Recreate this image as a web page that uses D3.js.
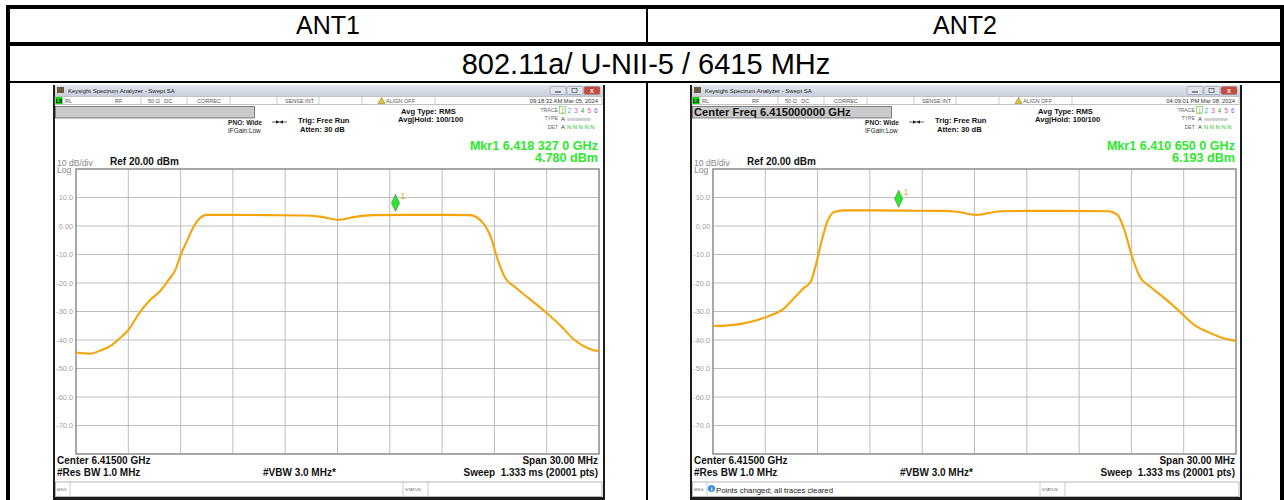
<!DOCTYPE html>
<html><head><meta charset="utf-8">
<script src="https://cdn.jsdelivr.net/npm/d3@7"></script>
<style>
body{margin:0;background:#fff}
svg{display:block}
text{font-family:"Liberation Sans",Arial,sans-serif}
</style>
</head><body>
<svg id="c" width="1284" height="500"></svg>
<script>
// ---------------- data ----------------
const columnTitles = ["ANT1", "ANT2"];
const rowTitle = "802.11a/ U-NII-5 / 6415 MHz";
const yTicks = [10, 0, -10, -20, -30, -40, -50, -60, -70];
const yTickLabels = ["10.0", "0.00", "-10.0", "-20.0", "-30.0", "-40.0", "-50.0", "-60.0", "-70.0"];
const xGridFreq = [6.400, 6.403, 6.406, 6.409, 6.412, 6.415, 6.418, 6.421, 6.424, 6.427, 6.430];

const ant1Freq = [6.4000, 6.4008, 6.4014, 6.40205, 6.4025, 6.4030, 6.4036, 6.40425, 6.4048, 6.4053, 6.4057, 6.4060, 6.40635, 6.40675, 6.4071, 6.4075, 6.4090, 6.4110, 6.4130, 6.4140, 6.4150, 6.4160, 6.4170, 6.4190, 6.4210, 6.4226, 6.42335, 6.4238, 6.4242, 6.4246, 6.4252, 6.4260, 6.4269, 6.4278, 6.4286, 6.4294, 6.4300];
const ant1Level = [-44.4, -44.8, -43.7, -41.8, -39.5, -36.5, -30.8, -26.0, -23.0, -19.0, -15.4, -10.2, -5.5, -0.2, 2.7, 3.9, 3.9, 3.8, 3.7, 3.3, 2.2, 3.2, 3.8, 3.9, 3.9, 3.8, 1.0, -4.0, -12.0, -18.0, -21.5, -25.5, -30.0, -35.0, -40.0, -43.0, -44.0];

const ant2Freq = [6.4000, 6.4012, 6.40235, 6.4032, 6.4041, 6.40465, 6.4052, 6.4056, 6.4059, 6.4062, 6.40655, 6.40695, 6.4075, 6.4090, 6.4110, 6.4130, 6.4140, 6.4151, 6.4165, 6.4180, 6.4200, 6.4227, 6.4232, 6.4236, 6.4240, 6.4245, 6.4251, 6.4259, 6.4268, 6.4276, 6.4285, 6.4294, 6.4300];
const ant2Level = [-35.1, -34.7, -33.3, -31.6, -28.8, -25.3, -21.8, -19.6, -13.7, -6.0, 1.4, 4.9, 5.5, 5.5, 5.4, 5.3, 5.0, 3.9, 5.2, 5.3, 5.3, 5.2, 3.9, -1.4, -10.0, -18.0, -21.4, -25.3, -30.2, -34.7, -37.5, -39.6, -40.4];

const screens = [
  {ox: 53, freq: ant1Freq, level: ant1Level, mkrF: 6.4183270, mkrL: 4.780,
   mkrText: "Mkr1 6.418 327 0 GHz", mkrVal: "4.780 dBm", time: "09:18:32 AM Mar 05, 2024",
   input: "", msg: ""},
  {ox: 690, freq: ant2Freq, level: ant2Level, mkrF: 6.4106500, mkrL: 6.193,
   mkrText: "Mkr1 6.410 650 0 GHz", mkrVal: "6.193 dBm", time: "04:09:01 PM Mar 08, 2024",
   input: "Center Freq 6.415000000 GHz", msg: "Points changed; all traces cleared"}
];

// ---------------- table ----------------
const svg = d3.select("#c");
const T = svg.append("g");
function blk(x, y, w, h) { T.append("rect").attr("x", x).attr("y", y).attr("width", w).attr("height", h).attr("fill", "#000"); }
blk(6, 5, 1278, 4);     // top
blk(6, 5, 4, 495);      // left
blk(1280, 5, 4, 495);   // right
blk(6, 42, 1278, 4);    // row 1 bottom
blk(6, 81, 1278, 2);    // row 2 bottom
blk(646, 9, 2, 33);     // column divider row 1
blk(646, 83, 2, 417);   // column divider row 3

T.append("text").attr("x", 328).attr("y", 34).attr("text-anchor", "middle").attr("font-size", 25).text(columnTitles[0]);
T.append("text").attr("x", 965).attr("y", 34).attr("text-anchor", "middle").attr("font-size", 25).text(columnTitles[1]);
T.append("text").attr("x", 646).attr("y", 74).attr("text-anchor", "middle").attr("font-size", 29).text(rowTitle);

// ---------------- screenshots ----------------
function txt(g, x, y, s, size, opts = {}) {
  const t = g.append("text").attr("x", x).attr("y", y).attr("font-size", size)
    .attr("fill", opts.fill || "#111").attr("text-anchor", opts.anchor || "start")
    .attr("font-weight", opts.bold ? "bold" : "normal");
  t.text(s);
  return t;
}

screens.forEach((S, si) => {
  const g = svg.append("g").attr("transform", `translate(${S.ox},85)`);
  // frame
  g.append("rect").attr("width", 552).attr("height", 415).attr("fill", "#1c1c1c");
  const grad = svg.append("defs").append("linearGradient").attr("id", "tb" + si).attr("x1", 0).attr("y1", 0).attr("x2", 0).attr("y2", 1);
  grad.append("stop").attr("offset", 0).attr("stop-color", "#e3e8f0");
  grad.append("stop").attr("offset", 1).attr("stop-color", "#c9d0dc");
  g.append("rect").attr("x", 2).attr("y", 0).attr("width", 548).attr("height", 11).attr("fill", `url(#tb${si})`);
  g.append("rect").attr("x", 2).attr("y", 11).attr("width", 548).attr("height", 401).attr("fill", "#fff");
  // title bar
  g.append("rect").attr("x", 4).attr("y", 2).attr("width", 7).attr("height", 6).attr("fill", "#6b5a3a");
  txt(g, 15, 7.5, "Keysight Spectrum Analyzer - Swept SA", 6, {fill: "#222"});
  [[497, "#dfe4ec"], [514, "#dfe4ec"], [531, "#c94a3c"]].forEach(([bx, c]) => {
    g.append("rect").attr("x", bx).attr("y", 1.5).attr("width", 16).attr("height", 8).attr("rx", 1.5)
      .attr("fill", c).attr("stroke", "#8a93a3").attr("stroke-width", 0.6);
  });
  g.append("line").attr("x1", 502).attr("x2", 508).attr("y1", 7).attr("y2", 7).attr("stroke", "#333");
  g.append("rect").attr("x", 519).attr("y", 3.5).attr("width", 5).attr("height", 4).attr("fill", "none").attr("stroke", "#333").attr("stroke-width", 0.6);
  g.append("text").attr("x", 539).attr("y", 8).attr("text-anchor", "middle").attr("font-size", 7).attr("fill", "#fff").attr("font-weight", "bold").text("x");

  // status row
  g.append("rect").attr("x", 2).attr("y", 11.5).attr("width", 547).attr("height", 8).attr("fill", "#fff").attr("stroke", "#9a9a9a").attr("stroke-width", 0.6);
  g.append("rect").attr("x", 2.5).attr("y", 12).attr("width", 7).attr("height", 7).attr("fill", "#12d012");
  txt(g, 3, 18, "LX", 5, {fill: "#000", bold: true});
  [88, 134, 177, 224, 266, 309, 382].forEach(sx => g.append("line").attr("x1", sx).attr("x2", sx).attr("y1", 11.5).attr("y2", 19.5).attr("stroke", "#aaa").attr("stroke-width", 0.6));
  txt(g, 12, 18, "RL", 5.5, {fill: "#555"});
  txt(g, 62, 18, "RF", 5.5, {fill: "#555"});
  txt(g, 95, 18, "50 Ω\u00A0\u00A0\u00A0DC", 5.5, {fill: "#555"});
  txt(g, 144, 18, "CORREC", 5.5, {fill: "#555"});
  txt(g, 232, 18, "SENSE:INT", 5.5, {fill: "#555"});
  g.append("path").attr("d", "M325,18.5 L328.5,12.5 L332,18.5 Z").attr("fill", "#e8c020").attr("stroke", "#555").attr("stroke-width", 0.4);
  txt(g, 333, 18, "ALIGN OFF", 5.5, {fill: "#555"});
  txt(g, 545, 18, S.time, 5.8, {fill: "#333", anchor: "end"});

  // input box
  g.append("rect").attr("x", 2.5).attr("y", 21.5).attr("width", 199).attr("height", 11.5).attr("fill", "#cacaca").attr("stroke", "#666").attr("stroke-width", 0.8);
  if (S.input) txt(g, 4, 31, S.input, 11.2, {bold: true, fill: "#111"});

  // settings text
  txt(g, 175, 39.5, "PNO: Wide", 6.6, {bold: true, fill: "#222"});
  txt(g, 175, 47.5, "IFGain:Low", 6.4, {fill: "#222"});
  g.append("line").attr("x1", 219).attr("x2", 234).attr("y1", 37).attr("y2", 37).attr("stroke", "#222").attr("stroke-width", 0.7);
  g.append("path").attr("d", "M223,35.3 L226.5,37 L223,38.7 Z M230,35.3 L226.5,37 L230,38.7 Z").attr("fill", "#222");
  txt(g, 245, 38, "Trig: Free Run", 7.6, {bold: true});
  txt(g, 247, 46.5, "Atten: 30 dB", 7.6, {bold: true});
  txt(g, 348, 29, "Avg Type: RMS", 7.6, {bold: true});
  txt(g, 345, 37, "Avg|Hold: 100/100", 7.6, {bold: true});

  // trace table
  txt(g, 505, 27, "TRACE", 5.2, {fill: "#666", anchor: "end"});
  txt(g, 505, 35, "TYPE", 5.2, {fill: "#666", anchor: "end"});
  txt(g, 505, 43.5, "DET", 5.2, {fill: "#666", anchor: "end"});
  g.append("rect").attr("x", 506.5).attr("y", 21.5).attr("width", 6).attr("height", 7).attr("fill", "none").attr("stroke", "#4c4").attr("stroke-width", 0.6);
  const tcol = ["#e8a000", "#22bbdd", "#e040e0", "#20b020", "#ff4090", "#7060ff"];
  tcol.forEach((c, i) => txt(g, 508 + i * 6.6, 27.5, String(i + 1), 6.4, {fill: c}));
  txt(g, 508, 35.5, "A", 5.8, {fill: "#333"});
  txt(g, 514, 35.5, "WWWWWW", 4.2, {fill: "#888"});
  txt(g, 508, 44, "A", 5.8, {fill: "#333"});
  txt(g, 514, 44, "N N N N N", 5.8, {fill: "#20c020"});

  // marker readout
  txt(g, 545, 64.5, S.mkrText, 12.6, {bold: true, fill: "#2ee82e", anchor: "end"});
  txt(g, 545, 76.5, S.mkrVal, 12.6, {bold: true, fill: "#2ee82e", anchor: "end"});
  txt(g, 4, 80.5, "10 dB/div", 8.6, {fill: "#888"});
  txt(g, 4, 88, "Log", 8.6, {fill: "#888"});
  txt(g, 57, 80, "Ref 20.00 dBm", 10, {bold: true});

  // graph
  const gx0 = 23, gx1 = 546, gy0 = 84, gy1 = 369;
  const x = d3.scaleLinear().domain([6.400, 6.430]).range([gx0, gx1]);
  const y = d3.scaleLinear().domain([-80, 20]).range([gy1, gy0]);
  const grid = g.append("g");
  xGridFreq.slice(1, -1).forEach(f => grid.append("line").attr("x1", x(f)).attr("x2", x(f)).attr("y1", gy0).attr("y2", gy1).attr("stroke", "#bdbdbd").attr("stroke-width", 1));
  yTicks.forEach(v => grid.append("line").attr("x1", gx0).attr("x2", gx1).attr("y1", y(v)).attr("y2", y(v)).attr("stroke", "#bdbdbd").attr("stroke-width", 1));
  g.append("rect").attr("x", gx0).attr("y", gy0).attr("width", gx1 - gx0).attr("height", gy1 - gy0)
    .attr("fill", "none").attr("stroke", "#8a8a8a").attr("stroke-width", 1.5);
  const ax = g.append("g").attr("transform", `translate(${gx0 - 3},0)`)
    .call(d3.axisLeft(y).tickValues(yTicks).tickFormat((d, i) => yTickLabels[i]).tickSize(0).tickPadding(0));
  ax.select(".domain").remove();
  ax.selectAll("text").attr("fill", "#a0a0a0").attr("font-size", 7.3).attr("font-family", "Liberation Sans, Arial, sans-serif");

  const pts = S.freq.map((f, i) => [f, S.level[i]]);
  g.append("path").datum(pts)
    .attr("d", d3.line().x(d => x(d[0])).y(d => y(d[1])).curve(d3.curveMonotoneX))
    .attr("fill", "none").attr("stroke", "#f5a40a").attr("stroke-width", 2.1).attr("stroke-linejoin", "round");

  // marker
  const mx = x(S.mkrF), my = y(S.mkrL);
  g.append("path").attr("d", `M${mx},${my - 1} L${mx + 4},${my - 9.5} L${mx},${my - 18} L${mx - 4},${my - 9.5} Z`)
    .attr("fill", "#2ee82e").attr("stroke", "#3a7a3a").attr("stroke-width", 0.6);
  txt(g, mx + 5, my - 13, "1", 8.5, {fill: "#f0a010"});

  // footer
  txt(g, 4, 378.5, "Center 6.41500 GHz", 10, {bold: true});
  txt(g, 4, 390.5, "#Res BW 1.0 MHz", 10, {bold: true});
  txt(g, 210, 390.5, "#VBW 3.0 MHz*", 10, {bold: true});
  txt(g, 545, 378.5, "Span 30.00 MHz", 10, {bold: true, anchor: "end"});
  txt(g, 545, 390.5, "Sweep\u00A0\u00A01.333 ms (20001 pts)", 10, {bold: true, anchor: "end"});

  // msg bar
  g.append("rect").attr("x", 2.5).attr("y", 397).attr("width", 546.5).attr("height", 14.5).attr("fill", "#fff").attr("stroke", "#999").attr("stroke-width", 0.7);
  [17, 350, 375].forEach(sx => g.append("line").attr("x1", sx).attr("x2", sx).attr("y1", 397).attr("y2", 411.5).attr("stroke", "#aaa").attr("stroke-width", 0.6));
  txt(g, 4, 406, "MSG", 4.2, {fill: "#666"});
  txt(g, 352, 406, "STATUS", 4.2, {fill: "#666"});
  if (S.msg) {
    g.append("circle").attr("cx", 21.5).attr("cy", 403.5).attr("r", 3.6).attr("fill", "#3d8fe0");
    g.append("text").attr("x", 21.5).attr("y", 406).attr("text-anchor", "middle").attr("font-size", 6).attr("fill", "#fff").attr("font-weight", "bold").text("i");
    txt(g, 26, 407.5, S.msg, 7.8, {fill: "#222"});
  }
});
</script>
</body></html>
